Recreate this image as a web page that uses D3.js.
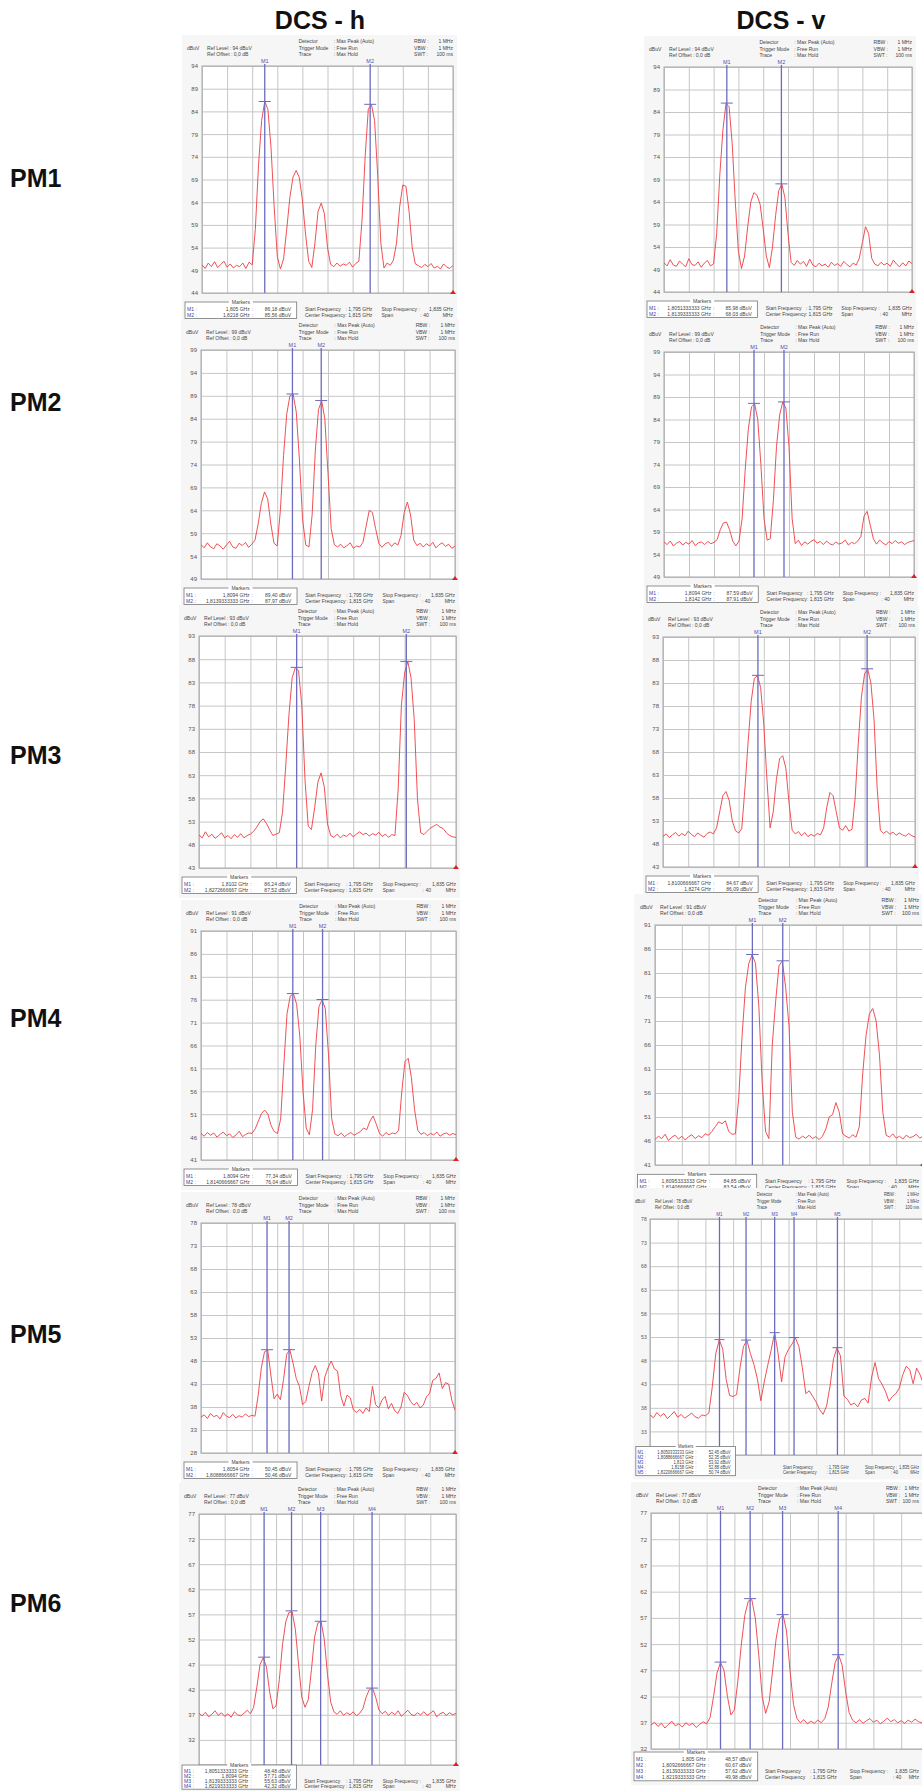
<!DOCTYPE html>
<html>
<head>
<meta charset="utf-8">
<script src="https://cdn.jsdelivr.net/npm/d3@7"></script>
<style>
body { margin: 0; background: #fff; }
svg text { font-family: "Liberation Sans", Arial, sans-serif; }
</style>
</head>
<body>
<svg id="chart" width="922" height="1791"></svg>
<script>
// ---- data ----
var columnTitles = ['DCS - h', 'DCS - v'];
var rowLabels = ['PM1', 'PM2', 'PM3', 'PM4', 'PM5', 'PM6'];
var spanMHz = 40;           // 1,795 .. 1,835 GHz
var stepMHz = 0.5;          // one trace value every 0.5 MHz
var dbPerDiv = 5;
var refLevelsH = [94, 99, 93, 91, 78, 77];
var refLevelsV = [94, 99, 93, 91, 78, 77];

var traceH1 = [50.2,49.4,50.6,49.8,50.9,49.6,50.3,51.0,49.7,50.4,49.5,50.1,49.8,50.6,49.4,50.8,50.2,58,72,82,86.2,84.5,76,63,52,49.3,51.5,58,65,69.5,71,69.5,64.5,57,51,49.6,55,62,63.8,61.5,54,50.3,49.8,50.6,49.9,50.4,50.1,50.8,49.7,50.5,51.0,60,74,84.5,85.5,82,70,55,49.5,50.6,50.1,51.2,55,63,67.8,67.5,62,54,50.4,50.0,49.6,50.3,49.8,50.5,49.5,49.9,49.3,50.4,49.7,49.4,50.1];
var traceV1 = [50.5,49.8,51.2,50.0,49.7,50.9,50.2,49.6,51.4,50.1,49.9,50.7,49.5,50.4,51.0,49.8,50.3,57,70,80,85.9,85.2,77,64,53,49.2,52,58.5,64,66.1,65.5,63.5,58,52,49.4,54,61,66.5,68.0,65,57,50.6,49.9,51.0,50.2,50.8,49.7,51.3,50.0,49.6,50.4,49.8,50.2,49.5,50.6,49.9,50.3,49.7,50.8,50.1,49.6,50.4,50.0,51.5,55,58.5,57,51.5,50.2,49.8,50.6,50.0,50.4,49.7,51.1,50.2,49.6,50.5,49.8,50.9,50.3];
var traceH2 = [56.5,55.8,56.9,56.0,55.6,56.7,56.2,55.5,56.4,57.2,56.0,55.7,56.8,56.3,57.0,55.9,56.6,57.5,61,65.5,68.0,66.5,61,56.8,56.2,64,76,85,89,89.4,85.5,75,62,56.4,56.0,63,77,86,87.9,84,72,60,56.5,56.0,56.6,55.8,56.3,56.9,55.7,56.2,56.0,57.0,60.5,64.0,63.5,60,56.8,55.9,56.7,57.0,56.1,56.9,56.4,58.5,63.5,65.8,63,57.5,56.3,56.8,56.0,56.7,56.2,57.0,55.8,56.5,56.9,56.1,56.6,55.7,56.2];
var traceV2 = [56.8,56.2,57.0,55.9,56.5,56.9,56.1,56.7,56.3,57.1,56.0,56.6,56.8,56.2,56.9,56.4,56.7,57.3,59.5,61.0,61.2,59.5,57.0,55.9,57.0,62,73,82,86.8,87.5,84,74,62,57.2,57.5,66,78,85,87.9,86.5,78,62,56.4,57.2,56.0,56.8,56.3,56.9,57.3,56.5,56.9,56.2,57.0,56.4,56.1,56.8,56.3,56.6,57.2,56.1,56.7,56.4,57.0,58,62.5,63.6,60.5,57.5,56.3,57.2,56.6,56.1,56.9,56.4,57.1,56.5,56.8,56.2,56.7,56.9,57.1];
var traceH3 = [50.1,49.5,50.8,49.7,50.3,49.4,49.9,50.6,49.5,50.0,49.3,50.2,49.6,50.4,49.5,50.0,50.3,50.9,51.8,53.0,53.6,52.6,51.2,50.0,50.3,50.6,55,65,76,84,86.2,85.5,78,62,52,51.3,56,61.5,63.5,60.5,52.5,50.0,49.6,50.3,49.5,50.1,49.8,50.5,49.7,50.3,50.8,50.2,50.5,49.9,50.4,50.1,50.7,49.8,50.3,49.6,50.2,50.0,60,78,85,87.5,84,75,58,50.6,50.2,50.9,51.6,52.0,52.4,51.8,51.5,50.6,50.0,49.7,49.6];
var traceV3 = [49.6,50.2,49.4,50.0,50.5,49.7,50.3,49.8,50.8,50.1,49.6,50.4,49.9,49.5,50.3,50.6,50.2,51.5,55,58.5,59.4,57.5,53,50.9,50.4,51.3,60,70,79,84,84.6,82,74,62,51.5,55,62,66.5,67.2,64.5,57,51,50.2,50.7,49.8,50.5,49.6,50.1,49.7,50.3,50.0,51.5,56,59.2,58.5,55,51.5,51.0,52.0,50.8,51.2,58,70,80,85,86.0,83,75,60,51,50.3,50.8,50.1,50.6,49.9,50.4,50.0,49.7,50.3,49.8,49.5];
var traceH4 = [46.8,46.2,47.0,46.4,46.9,46.0,46.6,47.1,46.3,46.7,45.9,46.5,47.3,46.1,46.6,46.9,46.8,47.8,49.5,51.2,51.9,51.0,48.5,47.2,46.8,50,62,73,76.8,77.3,75,68,56,48,46.5,52,66,74.5,76.0,74,64,50,46.7,46.3,46.9,46.1,46.6,47.0,46.4,46.8,47.2,48.0,47.6,49.5,50.6,48.8,46.8,46.2,47.0,46.5,46.9,46.7,47.5,56,62.5,63.2,59,52,47.5,46.6,47.0,46.3,46.8,46.5,47.1,46.2,46.7,46.9,46.4,46.8,46.5];
var traceV4 = [46.3,47.0,46.5,47.4,46.1,46.8,47.2,46.4,47.0,46.2,46.9,47.3,46.5,47.1,46.7,47.5,47.2,48.0,49.0,50.0,49.6,50.2,48.0,47.4,47.5,55,68,78,83,84.8,83,74,58,48,46.5,66,75,82.5,83.5,78,70,52,46.8,46.4,47.0,46.6,47.2,46.5,46.9,46.3,47.0,48.5,51.0,51.5,54.0,52,47.5,47.0,46.6,47.3,46.8,49.0,60,68,72.5,73.6,71,64,52,47.2,46.8,47.5,46.6,47.0,46.4,47.2,46.7,46.9,47.4,46.6,47.0];
var traceH5 = [35.8,36.3,35.5,36.6,35.9,36.2,35.4,36.8,36.0,35.7,36.4,35.6,36.1,35.8,36.5,35.9,36.2,36.0,40.5,46.5,50.0,50.4,45,39.8,40.8,39.6,44,49.5,50.4,47.5,44.2,42.5,38.5,39.2,42.5,45.5,47.0,45.2,39.3,44.5,46.5,48.0,46.3,45.8,40.5,38.2,40.6,40.0,37.4,36.8,37.5,36.6,37.8,37.0,42.5,38.5,37.8,39.5,40.3,37.6,38.8,37.2,36.6,38.0,41.2,40.5,39.2,38.4,39.0,37.8,38.4,40.2,41.0,43.8,44.2,45.4,42.0,43.3,43.0,39.5,37.3];
var traceV5 = [36.5,35.9,37.0,36.2,36.8,35.7,36.4,37.2,36.0,36.6,35.8,36.3,36.9,36.1,35.8,36.5,36.3,36.9,42.5,49.5,52.4,50.5,44.0,40.6,40.4,40.8,46.5,51.0,52.3,49.5,47.2,44.2,39.5,43.5,47.0,50.3,53.9,49.5,43.5,48.8,50.4,51.5,52.8,51.0,46.5,41.0,41.6,40.4,39.2,37.6,36.6,38.4,42.6,48.4,50.7,49.0,40.5,39.8,38.6,39.0,38.2,39.6,40.0,39.0,44.5,47.6,44.2,43.0,41.5,39.4,40.4,41.0,42.2,45.0,46.8,46.1,43.1,46.4,45.0,43.0,42.0];
var traceH6 = [37.3,36.8,37.5,36.6,37.1,37.8,36.9,37.4,36.7,37.2,36.5,37.6,37.0,36.8,37.3,37.9,37.2,38.5,42.5,47.0,48.4,46.5,41.5,38.2,38.8,44,51,55.5,57.4,57.5,54,47,40.5,38.5,40,46,52.5,55.3,55.6,52,45,39.5,37.6,37.1,37.8,36.9,37.4,37.0,37.6,36.8,37.3,38.2,40.5,42.0,42.3,40.5,38.0,37.2,37.7,36.9,37.5,37.0,37.8,36.7,37.3,37.9,37.1,36.8,37.4,37.0,37.6,36.9,37.3,37.8,36.6,37.2,37.5,36.9,37.4,37.0,37.3];
var traceV6 = [36.6,37.1,36.3,36.9,36.0,36.7,37.3,36.4,36.8,36.2,37.0,36.5,36.9,36.1,36.7,37.2,36.8,38,42,46.5,48.5,47,42,38.5,39.5,45,52,57.5,60.2,60.5,57,50,42,38.8,41,47,53,56.8,57.6,54.5,47,40.5,37.8,37.0,37.6,36.8,37.3,36.9,37.5,37.0,37.8,40,44.5,48.5,49.9,48,43,39,37.5,37.0,37.6,36.9,37.4,37.8,37.1,37.5,36.8,37.3,37.9,37.2,37.6,37.0,37.4,36.9,37.5,37.1,37.7,37.2,37.0,37.4,36.9];

// markers: name, frequency text, offset from start (MHz), level (dBuV)
var markersH1 = [['M1', '1,805 GHz', 10.0, 86.18], ['M2', '1,8218 GHz', 26.8, 85.56]];
var markersV1 = [['M1', '1,8051333333 GHz', 10.133, 85.98], ['M2', '1,8139333333 GHz', 18.933, 68.03]];
var markersH2 = [['M1', '1,8094 GHz', 14.4, 89.40], ['M2', '1,8139333333 GHz', 18.933, 87.97]];
var markersV2 = [['M1', '1,8094 GHz', 14.4, 87.59], ['M2', '1,8142 GHz', 19.2, 87.91]];
var markersH3 = [['M1', '1,8102 GHz', 15.2, 86.24], ['M2', '1,8272666667 GHz', 32.267, 87.52]];
var markersV3 = [['M1', '1,8100666667 GHz', 15.067, 84.67], ['M2', '1,8274 GHz', 32.4, 86.09]];
var markersH4 = [['M1', '1,8094 GHz', 14.4, 77.34], ['M2', '1,8140666667 GHz', 19.067, 76.04]];
var markersV4 = [['M1', '1,8095333333 GHz', 14.533, 84.85], ['M2', '1,8140666667 GHz', 19.067, 83.54]];
var markersH5 = [['M1', '1,8054 GHz', 10.4, 50.45], ['M2', '1,8088666667 GHz', 13.867, 50.46]];
var markersV5 = [['M1', '1,8050333333 GHz', 10.033, 52.45], ['M2', '1,8088666667 GHz', 13.867, 52.35], ['M3', '1,813 GHz', 18.0, 53.92], ['M4', '1,8158 GHz', 20.8, 52.88], ['M5', '1,8220666667 GHz', 27.067, 50.74]];
var markersH6 = [['M1', '1,8051333333 GHz', 10.133, 48.48], ['M2', '1,8094 GHz', 14.4, 57.71], ['M3', '1,8139333333 GHz', 18.933, 55.63], ['M4', '1,8219333333 GHz', 26.933, 42.32]];
var markersV6 = [['M1', '1,805 GHz', 10.0, 48.57], ['M2', '1,8092666667 GHz', 14.267, 60.67], ['M3', '1,8139333333 GHz', 18.933, 57.62], ['M4', '1,8219333333 GHz', 26.933, 49.98]];

// ---- layout (where each screenshot sits on the page) ----
var titleX = [320, 781];
var rowLabelY = [178, 402, 755, 1018, 1334, 1603];
var panels = [
    {trace: traceH1, markers: markersH1, ref: refLevelsH[0], x: 202, y: 66, w: 251, h: 227, fs: 6},
    {trace: traceV1, markers: markersV1, ref: refLevelsV[0], x: 664, y: 67, w: 248, h: 225, fs: 6},
    {trace: traceH2, markers: markersH2, ref: refLevelsH[1], x: 201, y: 350, w: 254, h: 229, fs: 6},
    {trace: traceV2, markers: markersV2, ref: refLevelsV[1], x: 664, y: 352, w: 250, h: 225, fs: 6},
    {trace: traceH3, markers: markersH3, ref: refLevelsH[2], x: 199, y: 636, w: 257, h: 232, fs: 6},
    {trace: traceV3, markers: markersV3, ref: refLevelsV[2], x: 663, y: 637, w: 252, h: 230, fs: 6},
    {trace: traceH4, markers: markersH4, ref: refLevelsH[3], x: 201, y: 931, w: 255, h: 229, fs: 6},
    {trace: traceV4, markers: markersV4, ref: refLevelsV[3], x: 655, y: 925, w: 268, h: 240, fs: 6.2},
    {trace: traceH5, markers: markersH5, ref: refLevelsH[4], x: 201, y: 1223, w: 254, h: 230, fs: 6},
    {trace: traceV5, markers: markersV5, ref: refLevelsV[4], x: 650, y: 1219, w: 277, h: 236, fs: 5,
        boxDy: -16, boxW: 0.36, footStart: 0.48, footStop: 0.776},
    {trace: traceH6, markers: markersH6, ref: refLevelsH[5], x: 199, y: 1514, w: 257, h: 251, fs: 6,
        boxDy: -9, row0: 7.5, rowH: 5.3},
    {trace: traceV6, markers: markersV6, ref: refLevelsV[5], x: 651, y: 1513, w: 278, h: 236, fs: 6, divs: 9, boxDy: -6}
];

var svg = d3.select('#chart');
var fmtLevel = function (v) { return d3.format('.2f')(v).replace('.', ',') + ' dBuV'; };

// small analyzer text is set a little condensed, like the screenshots
function tx(parent, x, y, s, anchor, color) {
    return parent.append('text')
        .attr('transform', 'translate(' + x + ',' + y + ') scale(0.84,1)')
        .attr('text-anchor', anchor || 'start')
        .attr('fill', color || null)
        .text(s);
}

svg.selectAll('text.col-title')
    .data(columnTitles)
    .enter().append('text')
    .attr('class', 'col-title')
    .attr('x', function (d, i) { return titleX[i]; })
    .attr('y', 29)
    .attr('text-anchor', 'middle')
    .attr('font-size', 25)
    .attr('font-weight', 'bold')
    .attr('fill', '#111')
    .text(function (d) { return d; });

svg.selectAll('text.row-label')
    .data(rowLabels)
    .enter().append('text')
    .attr('class', 'row-label')
    .attr('x', 10)
    .attr('y', function (d, i) { return rowLabelY[i] + 9; })
    .attr('font-size', 25)
    .attr('font-weight', 'bold')
    .attr('fill', '#111')
    .text(function (d) { return d; });

panels.forEach(function (p, n) {
    var k = p.fs / 6;
    var divs = p.divs || 10;
    var R = Math.min(p.w, 919 - p.x);          // keep right-aligned text on the page
    var g = svg.append('g').attr('transform', 'translate(' + p.x + ',' + p.y + ')');
    var x = d3.scaleLinear().domain([0, spanMHz]).range([0, p.w]);
    var y = d3.scaleLinear().domain([p.ref - divs * dbPerDiv, p.ref]).range([p.h, 0]);
    var rows = p.markers.length;
    var boxTop = p.h + 9 * k + (p.boxDy || 0);
    var rowH = (p.rowH || 6.2) * k;
    var row0 = (p.row0 || 8.5) * k;

    // screenshot backdrop
    g.append('rect')
        .attr('x', -20 * k).attr('y', -31)
        .attr('width', p.w + 24 * k).attr('height', boxTop + row0 + rows * rowH + 31)
        .attr('fill', '#f6f6f6');
    g.append('rect').attr('width', p.w).attr('height', p.h).attr('fill', '#fff');

    // horizontal grid + level labels (a label hidden under the markers table is left out)
    var levels = d3.range(p.ref - divs * dbPerDiv, p.ref + 0.1, dbPerDiv);
    var yAxis = d3.axisLeft(y)
        .tickValues(levels)
        .tickSize(-p.w).tickPadding(4 * k)
        .tickFormat(function (d) { return y(d) > boxTop - 2 ? '' : d3.format('d')(d); });
    g.append('g').call(yAxis).call(function (a) {
        a.select('.domain').remove();
        a.selectAll('line').attr('stroke', '#c6c6c6');
        a.selectAll('text').attr('font-size', p.fs).attr('fill', '#555')
            .attr('font-family', '"Liberation Sans", Arial, sans-serif');
    });

    // vertical grid, 10 divisions
    var xAxis = d3.axisBottom(x).tickValues(d3.range(0, spanMHz + 0.1, 4)).tickSize(-p.h).tickFormat('');
    g.append('g').attr('transform', 'translate(0,' + p.h + ')').call(xAxis).call(function (a) {
        a.select('.domain').remove();
        a.selectAll('line').attr('stroke', '#c6c6c6');
    });
    g.append('rect').attr('width', p.w).attr('height', p.h)
        .attr('fill', 'none').attr('stroke', '#a8a8a8');

    // trace
    var clipId = 'clip' + n;
    g.append('clipPath').attr('id', clipId).append('rect').attr('width', p.w).attr('height', p.h);
    var line = d3.line()
        .x(function (d, i) { return x(i * stepMHz); })
        .y(function (d) { return y(d); });
    g.append('path')
        .datum(p.trace)
        .attr('clip-path', 'url(#' + clipId + ')')
        .attr('d', line)
        .attr('fill', 'none')
        .attr('stroke', '#ee3c42')
        .attr('stroke-width', 0.9);

    // markers
    var mk = g.selectAll('g.marker').data(p.markers).enter().append('g').attr('class', 'marker');
    mk.append('line')
        .attr('x1', function (d) { return x(d[2]); }).attr('x2', function (d) { return x(d[2]); })
        .attr('y1', -2).attr('y2', p.h)
        .attr('stroke', '#6b6bc0').attr('stroke-width', 1.3);
    mk.append('line')
        .attr('x1', function (d) { return x(d[2]) - 6 * k; }).attr('x2', function (d) { return x(d[2]) + 6 * k; })
        .attr('y1', function (d) { return y(d[3]); }).attr('y2', function (d) { return y(d[3]); })
        .attr('stroke', '#6b6bc0').attr('stroke-width', 1);
    mk.append('text')
        .attr('x', function (d) { return x(d[2]); }).attr('y', -3)
        .attr('text-anchor', 'middle')
        .attr('font-size', p.fs - 0.5).attr('fill', '#5050b0')
        .text(function (d) { return d[0]; });

    // reference triangle at the bottom right
    g.append('path')
        .attr('d', 'M' + (p.w - 3) + ',' + (p.h + 1) + 'L' + (p.w + 3) + ',' + (p.h + 1) + 'L' + p.w + ',' + (p.h - 3) + 'Z')
        .attr('fill', '#e02020');

    // header block
    var hd = g.append('g').attr('font-size', p.fs).attr('fill', '#444');
    var hy = [-23, -16.3, -9.6];
    tx(hd, -15, hy[1], 'dBuV');
    tx(hd, 5, hy[1], 'Ref Level :  ' + p.ref + '    dBuV');
    tx(hd, 5, hy[2], 'Ref Offset :      0,0 dB');
    [['Detector', 'Max Peak (Auto)'], ['Trigger Mode', 'Free Run'], ['Trace', 'Max Hold']].forEach(function (r, i) {
        tx(hd, p.w * 0.385, hy[i], r[0]);
        tx(hd, p.w * 0.525, hy[i], ': ' + r[1]);
    });
    [['RBW :', '1 MHz'], ['VBW :', '1 MHz'], ['SWT :', '100 ms']].forEach(function (r, i) {
        tx(hd, Math.min(p.w * 0.845, R - 30 * k), hy[i], r[0]);
        tx(hd, R, hy[i], r[1], 'end');
    });

    // markers table
    var bx = -17 * k, bw = p.w * (p.boxW || 0.445), bh = row0 - 4.5 * k + rows * rowH;
    var ft = g.append('g').attr('font-size', p.fs).attr('fill', '#444');
    ft.append('rect').attr('x', bx).attr('y', boxTop).attr('width', bw).attr('height', bh)
        .attr('fill', '#fff').attr('stroke', '#777').attr('stroke-width', 0.8);
    ft.append('rect').attr('x', bx + bw / 2 - 12 * k).attr('y', boxTop - 2).attr('width', 24 * k).attr('height', 4)
        .attr('fill', '#fff');
    tx(ft, bx + bw / 2, boxTop + 2 * k, 'Markers', 'middle');
    var freqR = bx + bw * 0.58, levelR = bx + bw * 0.95;
    p.markers.forEach(function (m, i) {
        var ty = boxTop + row0 + i * rowH;
        tx(ft, bx + 2 * k, ty, m[0] + ' :', 'start', '#4040a8');
        tx(ft, freqR, ty, m[1], 'end');
        tx(ft, freqR + 2 * k, ty, ':');
        tx(ft, levelR, ty, fmtLevel(m[3]), 'end');
    });
    // frequency settings sit on the last two rows of the table
    var sy = boxTop + row0 + Math.max(0, rows - 2) * rowH;
    var fs0 = p.w * (p.footStart || 0.41), fs1 = p.w * (p.footStop || 0.715);
    tx(ft, fs0, sy, 'Start Frequency');
    tx(ft, fs0 + (fs1 - fs0) * 0.53, sy, ': 1,795 GHz');
    tx(ft, fs0, sy + rowH, 'Center Frequency');
    tx(ft, fs0 + (fs1 - fs0) * 0.53, sy + rowH, ': 1,815 GHz');
    tx(ft, fs1, sy, 'Stop Frequency :');
    tx(ft, R, sy, '1,835 GHz', 'end');
    tx(ft, fs1, sy + rowH, 'Span');
    tx(ft, Math.min(p.w * 0.87, R - 22 * k), sy + rowH, ': 40');
    tx(ft, R, sy + rowH, 'MHz', 'end');
});
</script>
</body>
</html>
